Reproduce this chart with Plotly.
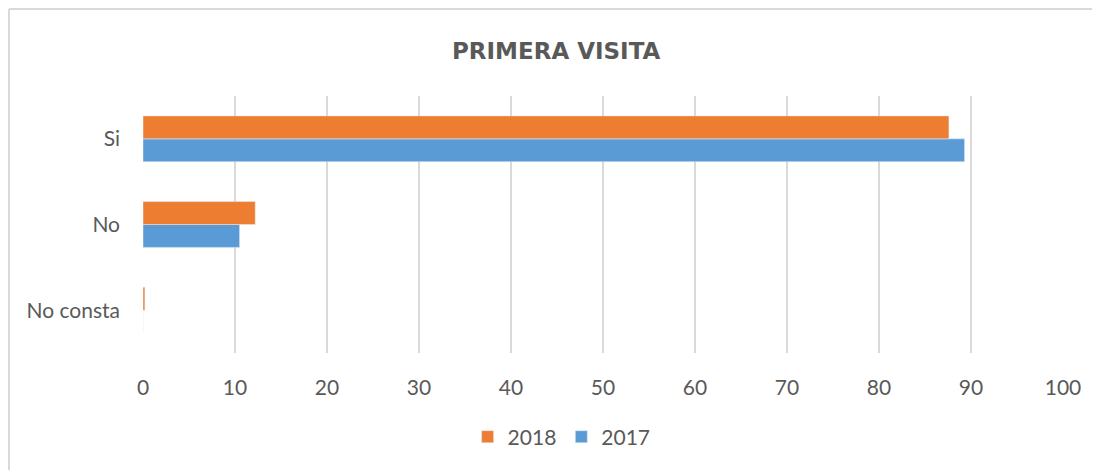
import plotly.graph_objects as go

# data
categorias = ["No consta", "No", "Si"]
valores_2018 = [0.2, 12.2, 87.6]
valores_2017 = [0.0, 10.5, 89.3]
ticks_x = [0, 10, 20, 30, 40, 50, 60, 70, 80, 90, 100]

fig = go.Figure()
fig.add_trace(go.Bar(y=categorias, x=valores_2017, name="2017", orientation="h",
                     marker=dict(color="#5B9BD5")))
fig.add_trace(go.Bar(y=categorias, x=valores_2018, name="2018", orientation="h",
                     marker=dict(color="#ED7D31")))

# page body has an 8px margin, so the figure is a bit smaller than the window
fig.update_layout(
    width=1092, height=462,
    margin=dict(l=135, r=37, t=88, b=117, autoexpand=False),
    paper_bgcolor="white", plot_bgcolor="white",
    barmode="group", bargap=0.465, bargroupgap=0,
    font=dict(family="Lato, Open Sans, sans-serif", color="#595959", size=21),
    title=dict(text="<b>PRIMERA VISITA</b>", x=0.502, xanchor="center", y=0.908, yanchor="middle",
               font=dict(family="DejaVu Sans, sans-serif", size=23, color="#595959")),
    legend=dict(orientation="h", x=0.455, xanchor="center", y=-0.327, yanchor="middle",
                traceorder="reversed", font=dict(size=21, color="#595959"),
                itemwidth=30, bgcolor="rgba(0,0,0,0)"),
    xaxis=dict(range=[0, 100], tickvals=ticks_x, showgrid=True, gridcolor="#D9D9D9",
               gridwidth=1.5, zeroline=False, showline=False, ticks="",
               ticklabelstandoff=20, automargin=False, fixedrange=True),
    yaxis=dict(categoryorder="array", categoryarray=categorias, showgrid=False,
               zeroline=False, showline=False, ticks="", ticklabelstandoff=22,
               automargin=False),
    showlegend=True,
)

# outer chart frame (left and top edges only visible in the reference)
fig.add_shape(type="line", xref="paper", yref="paper", x0=(1 - 135) / 920, x1=(1092 - 135) / 920,
              y0=(345 - 1) / 257, y1=(345 - 1) / 257, line=dict(color="#D9D9D9", width=2))
fig.add_shape(type="line", xref="paper", yref="paper", x0=(1 - 135) / 920, x1=(1 - 135) / 920,
              y0=(345 - 1) / 257, y1=(345 - 462) / 257, line=dict(color="#D9D9D9", width=2))

fig.write_html("out.html")
